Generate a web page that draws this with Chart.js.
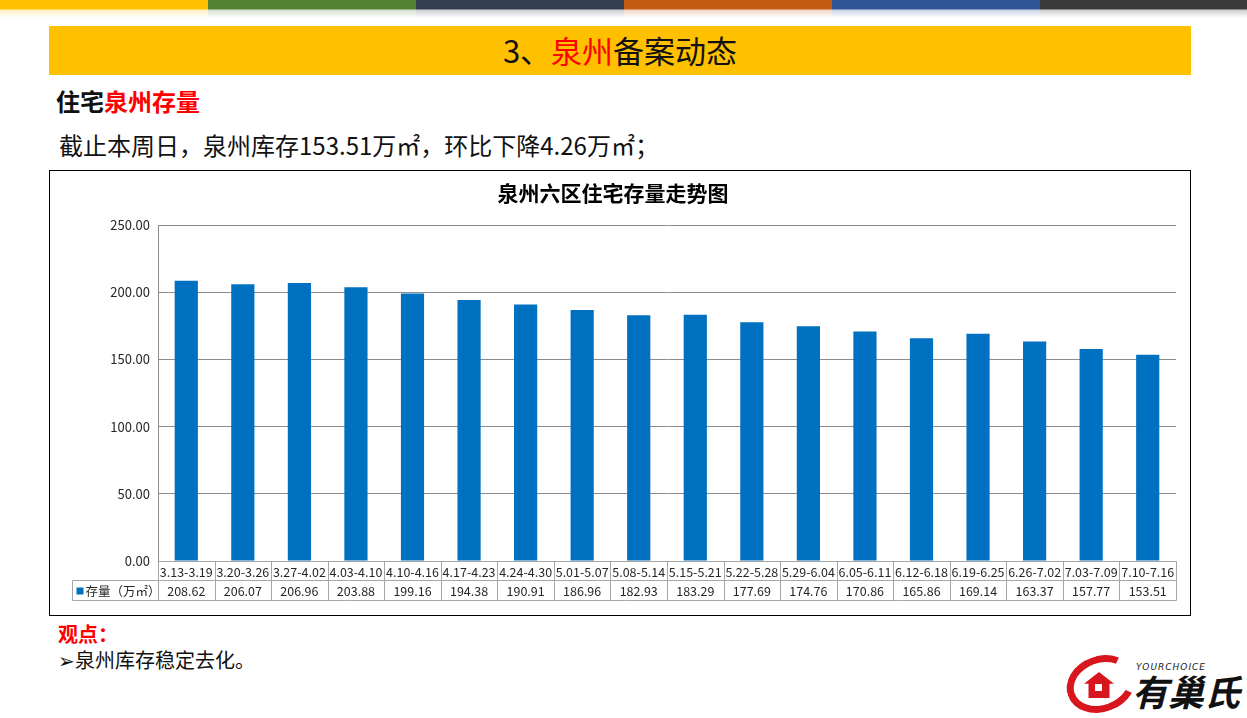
<!DOCTYPE html>
<html>
<head>
<meta charset="utf-8">
<script src="https://cdn.jsdelivr.net/npm/chart.js@4.4.0/dist/chart.umd.min.js"></script>
<style>
  body { margin: 0; width: 1247px; height: 718px; background: #fff; position: relative; overflow: hidden;
         font-family: "Noto Sans CJK SC", "Noto Sans", sans-serif; }
  .seg { position: absolute; top: 0; width: 208px; height: 18px; }
  #band { position: absolute; left: 49px; top: 26px; width: 1142px; height: 49px; background: #FFC000;
          text-align: center; font-size: 31px; line-height: 47px; color: #111; }
  .red { color: #FF0000; }
  #sub { position: absolute; left: 56px; top: 83px; font-size: 24px; font-weight: bold; color: #111; }
  #line1 { position: absolute; left: 59px; top: 127px; font-size: 24px; color: #111; }
  #box { position: absolute; left: 49px; top: 170px; width: 1140px; height: 444px; border: 1px solid #000; }
  #wrap { position: absolute; left: 0; top: 0; width: 1140px; height: 444px; }
  #view { position: absolute; left: 58px; top: 619px; font-size: 20px; font-weight: bold; color: #FF0000; }
  #note { position: absolute; left: 58px; top: 645px; font-size: 20px; color: #111; }
  #logo { position: absolute; left: 1064px; top: 652px; width: 180px; height: 64px; }
  #ring { position: absolute; left: 2px; top: 4px; width: 70px; height: 56px; border-radius: 50%;
          border: 7px solid #D7161D; border-right-color: transparent; transform: rotate(-20deg); box-sizing: border-box; }
  #house { position: absolute; left: 20px; top: 20px; width: 30px; height: 26px; background: #D7161D;
           clip-path: polygon(50% 0, 100% 45%, 85% 45%, 85% 100%, 15% 100%, 15% 45%, 0 45%); }
  #win { position: absolute; left: 31px; top: 32px; width: 7px; height: 7px; background: #fff; }
  #yc { position: absolute; left: 72px; top: 10px; font-size: 9px; font-style: italic; letter-spacing: 1px; color: #222; font-family: "DejaVu Sans", sans-serif; }
  #yzs { position: absolute; left: 68px; top: 18px; font-size: 36px; font-weight: bold; font-style: italic; color: #111; line-height: 40px; }
</style>
</head>
<body>
<div class="seg" style="left:0;background:linear-gradient(#FFC000 0,#FFC000 9px,rgba(255,192,0,0.25) 10px,rgba(255,255,255,0) 18px)"></div>
<div class="seg" style="left:208px;background:linear-gradient(#548235 0,#548235 9px,rgba(84,130,53,0.25) 10px,rgba(255,255,255,0) 18px)"></div>
<div class="seg" style="left:416px;background:linear-gradient(#333F50 0,#333F50 9px,rgba(51,63,80,0.25) 10px,rgba(255,255,255,0) 18px)"></div>
<div class="seg" style="left:624px;background:linear-gradient(#C55A11 0,#C55A11 9px,rgba(197,90,17,0.25) 10px,rgba(255,255,255,0) 18px)"></div>
<div class="seg" style="left:832px;background:linear-gradient(#2F5597 0,#2F5597 9px,rgba(47,85,151,0.25) 10px,rgba(255,255,255,0) 18px)"></div>
<div class="seg" style="left:1040px;width:207px;background:linear-gradient(#3A3A3A 0,#3A3A3A 9px,rgba(58,58,58,0.25) 10px,rgba(255,255,255,0) 18px)"></div>

<div id="band">3、<span class="red">泉州</span>备案动态</div>
<div id="sub">住宅<span class="red">泉州存量</span></div>
<div id="line1">截止本周日，泉州库存153.51万㎡，环比下降4.26万㎡；</div>

<div id="box"><div id="wrap"><canvas id="chart"></canvas></div></div>

<div id="view">观点：</div>
<div id="note">➢泉州库存稳定去化。</div>

<div id="logo">
  <div id="ring"></div>
  <div id="house"></div>
  <div id="win"></div>
  <div id="yc">YOURCHOICE</div>
  <div id="yzs">有巢氏</div>
</div>

<script>
const weeks = ['3.13-3.19', '3.20-3.26', '3.27-4.02', '4.03-4.10', '4.10-4.16', '4.17-4.23', '4.24-4.30',
    '5.01-5.07', '5.08-5.14', '5.15-5.21', '5.22-5.28', '5.29-6.04', '6.05-6.11', '6.12-6.18',
    '6.19-6.25', '6.26-7.02', '7.03-7.09', '7.10-7.16'];
const stock = [208.62, 206.07, 206.96, 203.88, 199.16, 194.38, 190.91, 186.96, 182.93, 183.29,
    177.69, 174.76, 170.86, 165.86, 169.14, 163.37, 157.77, 153.51];
const seriesName = '存量（万㎡）';
const chartTitle = '泉州六区住宅存量走势图';

const barBlue = '#0070C0';
const gridGray = '#8C8C8C';
const tableGray = '#A6A6A6';
const font = '"Noto Sans CJK SC", "Noto Sans", sans-serif';

// Data table under the axis
const dataTable = {
    id: 'dataTable',
    afterDraw(chart) {
        const { ctx, chartArea } = chart;
        const n = weeks.length;
        const colW = (chartArea.right - chartArea.left) / n;
        const top = Math.round(chartArea.bottom) + 0.5;
        const mid = top + 19;
        const bot = mid + 20;
        const headLeft = 22.5;
        const left = Math.round(chartArea.left) + 0.5;
        const right = Math.round(chartArea.right) + 0.5;

        ctx.save();
        ctx.strokeStyle = tableGray;
        ctx.lineWidth = 1;
        ctx.beginPath();
        ctx.moveTo(left, top); ctx.lineTo(right, top);
        ctx.moveTo(headLeft, mid); ctx.lineTo(right, mid);
        ctx.moveTo(headLeft, bot); ctx.lineTo(right, bot);
        ctx.moveTo(headLeft, mid); ctx.lineTo(headLeft, bot);
        for (let i = 0; i <= n; i++) {
            const xx = Math.round(chartArea.left + i * colW) + 0.5;
            ctx.moveTo(xx, top); ctx.lineTo(xx, bot);
        }
        ctx.stroke();

        ctx.fillStyle = '#262626';
        ctx.textAlign = 'center';
        ctx.textBaseline = 'middle';
        ctx.font = `12.5px ${font}`;
        weeks.forEach((w, i) => {
            const cx = chartArea.left + (i + 0.5) * colW;
            ctx.fillText(w, cx, (top + mid) / 2 + 1);
            ctx.fillText(stock[i].toFixed(2), cx, (mid + bot) / 2 + 1);
        });

        // legend key + series name
        ctx.fillStyle = barBlue;
        ctx.fillRect(headLeft + 4, (mid + bot) / 2 - 3, 7, 7);
        ctx.fillStyle = '#262626';
        ctx.textAlign = 'left';
        ctx.fillText(seriesName, headLeft + 13, (mid + bot) / 2 + 1);
        ctx.restore();
    }
};

const ctx = document.getElementById('chart').getContext('2d');
new Chart(ctx, {
    type: 'bar',
    data: {
        labels: weeks,
        datasets: [{
            label: seriesName,
            data: stock,
            backgroundColor: barBlue,
            barPercentage: 0.41,
            categoryPercentage: 1
        }]
    },
    options: {
        responsive: true,
        maintainAspectRatio: false,
        animation: false,
        layout: { padding: { left: 0, right: 14, top: 0, bottom: 54 } },
        plugins: {
            legend: { display: false },
            tooltip: { enabled: false },
            title: {
                display: true,
                text: chartTitle,
                color: '#000',
                font: { family: font, size: 21, weight: 'bold' },
                padding: { top: 9, bottom: 20 }
            }
        },
        scales: {
            x: { display: false },
            y: {
                min: 0,
                max: 250,
                afterFit: scale => { scale.width = 108; },
                ticks: {
                    stepSize: 50,
                    padding: 8,
                    color: '#262626',
                    font: { family: font, size: 13 },
                    callback: v => v.toFixed(2)
                },
                grid: { color: gridGray, drawTicks: false },
                border: { display: true, color: gridGray }
            }
        }
    },
    plugins: [dataTable]
});
</script>
</body>
</html>
